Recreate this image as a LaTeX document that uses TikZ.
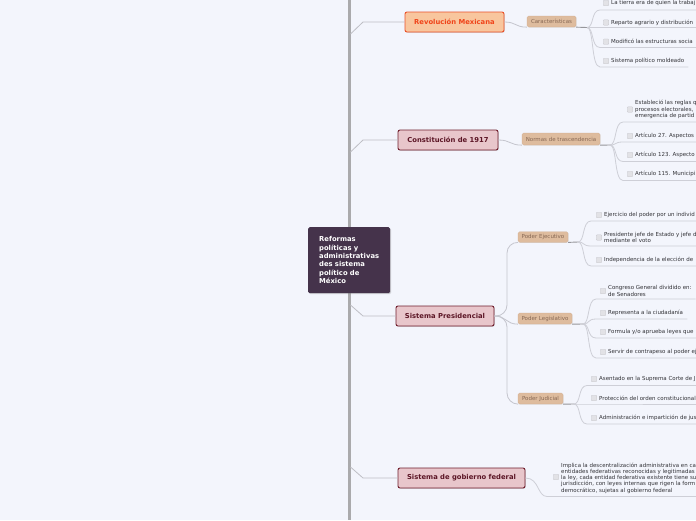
\documentclass[tikz,border=0pt]{standalone}
\usepackage{fontspec}
\setmainfont{DejaVu Sans}
\usetikzlibrary{shadows,calc}
\definecolor{bg}{RGB}{243,245,252}
\definecolor{spinec}{RGB}{170,170,172}
\definecolor{branchc}{RGB}{190,190,196}
\definecolor{connc}{RGB}{196,197,205}
\definecolor{forkc}{RGB}{150,150,155}
\definecolor{ulinec}{RGB}{206,207,215}
\definecolor{cfill}{RGB}{69,51,75}
\definecolor{mfill}{RGB}{232,198,203}
\definecolor{mdraw}{RGB}{112,30,45}
\definecolor{mtext}{RGB}{92,22,38}
\definecolor{rfill}{RGB}{248,198,158}
\definecolor{rdraw}{RGB}{234,80,40}
\definecolor{rtext}{RGB}{240,68,26}
\definecolor{sfill}{RGB}{222,188,158}
\definecolor{sdraw}{RGB}{208,172,142}
\definecolor{stext}{RGB}{135,104,84}
\definecolor{ltext}{RGB}{50,50,55}
\definecolor{chkfill}{RGB}{226,226,230}
\definecolor{chkdraw}{RGB}{198,198,204}
\newcommand\mmleaf[6]{% name, fork, checkbox x, y center, underline y, text
  \node[chk] (#1c) at (#3,#4) {};
  \node[leaf] (#1) at (#3+5,#4) {#6};
  \draw[uline] (#2) .. controls +(7,0) and +(-9,0) .. ($(#2 |- 0,#5)+(13,0)$) -- ([xshift=4pt]#1.east |- 0,#5);
}
\begin{document}
\begin{tikzpicture}[x=1pt,y=-1pt,
  central/.style={fill=cfill, text=white, font=\fontsize{6.8}{8.3}\selectfont\bfseries, align=left, text width=60pt, minimum width=82pt, minimum height=66pt, inner xsep=11pt, inner ysep=0pt, rounded corners=1.5pt, drop shadow={opacity=0.3,shadow xshift=1pt,shadow yshift=-1pt}, anchor=north west},
  mainnode/.style={fill=mfill, draw=mdraw, line width=0.9pt, text=mtext, font=\fontsize{6.8}{8}\selectfont\bfseries, minimum height=20pt, rounded corners=2pt, inner sep=0pt, drop shadow={opacity=0.25,shadow xshift=0.8pt,shadow yshift=-0.8pt}},
  revnode/.style={mainnode, fill=rfill, draw=rdraw, text=rtext},
  subnode/.style={fill=sfill, draw=sdraw, line width=0.3pt, text=stext, font=\fontsize{5.5}{6}\selectfont, minimum height=11pt, rounded corners=1.5pt, inner sep=0pt, drop shadow={opacity=0.15,shadow xshift=0.5pt,shadow yshift=-0.5pt}},
  leaf/.style={text=ltext, font=\fontsize{5.5}{6.2}\selectfont, align=left, anchor=west, inner sep=0pt},
  chk/.style={minimum size=5.5pt, inner sep=0pt, fill=chkfill, draw=chkdraw, line width=0.3pt, rounded corners=0.8pt},
  spine/.style={draw=spinec, line width=2.5pt},
  branch/.style={draw=branchc, line width=0.8pt},
  conn/.style={draw=connc, line width=0.8pt},
  forkl/.style={draw=forkc, line width=0.9pt},
  uline/.style={draw=ulinec, line width=0.8pt}]
\useasboundingbox (0,0) rectangle (696,520);
\clip (0,0) rectangle (696,520);
\fill[bg] (0,0) rectangle (696,520);

% spine
\coordinate (spt) at (349.5,0);
\coordinate (spb) at (349.5,520);
\draw[spine] (spt) -- (spb);

% central node
\node[central] (center) at (308,227) {Reformas\\políticas y\\administrativas\\des sistema\\político de\\México};

% main nodes
\node[revnode, minimum width=99pt] (rev) at (454.5,22) {Revolución Mexicana};
\node[mainnode, minimum width=100pt] (con) at (448,140) {Constitución de 1917};
\node[mainnode, minimum width=98pt] (pre) at (445,316) {Sistema Presidencial};
\node[mainnode, minimum width=127pt] (fed) at (461.5,478) {Sistema de gobierno federal};

% spine branches
\coordinate (s1) at (350.5,34);
\coordinate (s2) at (350.5,152);
\coordinate (s3) at (350.5,305);
\coordinate (s4) at (350.5,467);
\coordinate (k1) at (363,22);
\coordinate (k2) at (363,140);
\coordinate (k3) at (363,316);
\coordinate (k4) at (363,478);
\draw[branch] (s1) -- (k1) -- (rev.west);
\draw[branch] (s2) -- (k2) -- (con.west);
\draw[branch] (s3) -- (k3) -- (pre.west);
\draw[branch] (s4) -- (k4) -- (fed.west);

% sub nodes
\node[subnode, minimum width=49pt] (car) at (551.5,21.5) {Características};
\node[subnode, minimum width=78pt, minimum height=12pt] (nor) at (561,139) {Normas de trascendencia};
\node[subnode, minimum width=50pt, minimum height=10.5pt] (eje) at (543,237) {Poder Ejecutivo};
\node[subnode, minimum width=54pt] (leg) at (545,318.5) {Poder Legislativo};
\node[subnode, minimum width=45pt] (jud) at (540.5,398.5) {Poder Judicial};

% main -> sub connectors
\draw[conn] (rev.east) .. controls +(12,0) and +(-12,0) .. (car.south west);
\draw[conn] (con.east) .. controls +(12,0) and +(-12,0) .. (nor.south west);
\draw[conn] (pre.east) .. controls +(12,0) and +(-12,0) .. (leg.south west);
\draw[conn, rounded corners=11pt] (pre.east) -- (507,316) -- (507,242) -- (eje.south west);
\draw[conn, rounded corners=11pt] (pre.east) -- (507,316) -- (507,404) -- (jud.south west);

% forks
\coordinate (rf) at (587,27.5);
\coordinate (cf) at (610,145);
\coordinate (ef) at (578,242);
\coordinate (lf) at (583,324);
\coordinate (jf) at (574,404);
\draw[forkl] (car.south east) -- (rf);
\draw[forkl] (nor.south east) -- (cf);
\draw[forkl] (eje.south east) -- (ef);
\draw[forkl] (leg.south east) -- (lf);
\draw[forkl] (jud.south east) -- (jf);

% leaves: Revolución
\mmleaf{r1}{rf}{606}{3}{10}{La tierra era de quien la trabaj}
\mmleaf{r2}{rf}{606}{22.5}{27.5}{Reparto agrario y distribución}
\mmleaf{r3}{rf}{606}{41.7}{47.5}{Modificó las estructuras socia}
\mmleaf{r4}{rf}{606}{61}{67}{Sistema político moldeado}

% leaves: Constitución
\mmleaf{c1}{cf}{630}{109.5}{122}{Estableció las reglas q\\procesos electorales,\\emergencia de partid}
\mmleaf{c2}{cf}{630}{136}{142}{Artículo 27. Aspectos}
\mmleaf{c3}{cf}{630}{155}{161.5}{Artículo 123. Aspecto}
\mmleaf{c4}{cf}{630}{174}{180.5}{Artículo 115. Municipi}

% leaves: Ejecutivo
\mmleaf{e1}{ef}{599}{215}{221}{Ejercicio del poder por un individ}
\mmleaf{e2}{ef}{599}{237.5}{246}{Presidente jefe de Estado y jefe d\\mediante el voto}
\mmleaf{e3}{ef}{599}{260}{266}{Independencia de la elección de}

% leaves: Legislativo
\mmleaf{l1}{lf}{603}{291}{299}{Congreso General dividido en:\\de Senadores}
\mmleaf{l2}{lf}{603}{313}{319}{Representa a la ciudadanía}
\mmleaf{l3}{lf}{603}{332}{338}{Formula y/o aprueba leyes que}
\mmleaf{l4}{lf}{603}{352}{358}{Servir de contrapeso al poder ej}

% leaves: Judicial
\mmleaf{j1}{jf}{594}{379}{385.5}{Asentado en la Suprema Corte de J}
\mmleaf{j2}{jf}{594}{398}{404}{Protección del orden constitucional}
\mmleaf{j3}{jf}{594}{418}{424}{Administración e impartición de jus}

% leaf: federal
\node[chk] (f1c) at (556,477) {};
\node[leaf] (f1) at (561,478) {Implica la descentralización administrativa en ca\\entidades federativas reconocidas y legitimadas\\la ley, cada entidad federativa existente tiene su\\jurisdicción, con leyes internas que rigen la form\\democrático, sujetas al gobierno federal};
\draw[uline] (fed.east) .. controls +(14,0) and +(-10,0) .. ($(f1c.west |- 0,496.5)+(-6,0)$) -- (700,496.5);
\end{tikzpicture}
\end{document}
